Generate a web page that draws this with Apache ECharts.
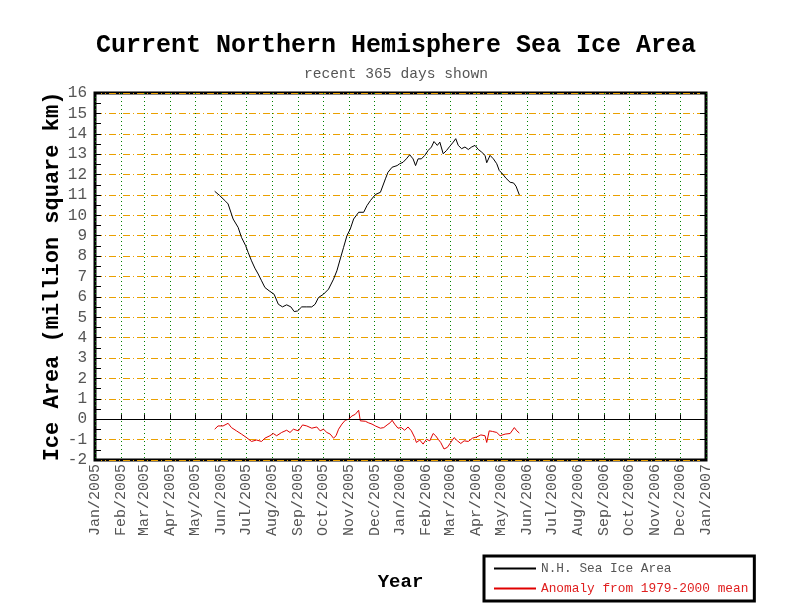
<!DOCTYPE html>
<html>
<head>
<meta charset="utf-8" />
<title>Current Northern Hemisphere Sea Ice Area</title>
<script src="https://cdn.jsdelivr.net/npm/echarts@6/dist/echarts.min.js"></script>
<style>
  html, body { margin: 0; padding: 0; background: #fff; }
  #chart { width: 792px; height: 612px; }
</style>
</head>
<body>
<div id="chart"></div>
<script type="text/javascript">
// N.H. sea ice area, million km^2
var iceDates = ['2005-05-24','2005-05-30','2005-06-06','2005-06-09','2005-06-15','2005-06-21','2005-06-25','2005-06-30',
  '2005-07-03','2005-07-07','2005-07-11','2005-07-15','2005-07-19','2005-07-23','2005-07-28','2005-08-03','2005-08-08',
  '2005-08-13','2005-08-18','2005-08-23','2005-08-27','2005-08-31','2005-09-05','2005-09-11','2005-09-17','2005-09-21',
  '2005-09-25','2005-10-01','2005-10-07','2005-10-13','2005-10-17','2005-10-21','2005-10-25','2005-10-29','2005-11-02',
  '2005-11-06','2005-11-12','2005-11-18','2005-11-22','2005-11-26','2005-12-02','2005-12-08','2005-12-14','2005-12-17',
  '2005-12-22','2005-12-28','2005-12-31','2006-01-04','2006-01-08','2006-01-12','2006-01-16','2006-01-19','2006-01-22',
  '2006-01-26','2006-01-30','2006-02-03','2006-02-07','2006-02-10','2006-02-14','2006-02-17','2006-02-21','2006-02-25',
  '2006-03-01','2006-03-05','2006-03-08','2006-03-11','2006-03-15','2006-03-19','2006-03-23','2006-03-27','2006-03-31',
  '2006-04-04','2006-04-08','2006-04-12','2006-04-14','2006-04-18','2006-04-22','2006-04-26','2006-04-29','2006-05-03',
  '2006-05-07','2006-05-12','2006-05-16','2006-05-19','2006-05-23'];
var iceArea = [11.18,10.97,10.69,10.56,9.82,9.41,8.92,8.51,
  8.18,7.77,7.41,7.12,6.79,6.46,6.30,6.13,5.64,
  5.51,5.61,5.51,5.28,5.31,5.51,5.51,5.51,5.64,
  5.97,6.13,6.38,6.87,7.28,7.86,8.43,9.00,9.33,
  9.82,10.15,10.15,10.48,10.72,11.02,11.13,11.79,12.11,
  12.36,12.44,12.53,12.60,12.77,12.97,12.77,12.44,12.77,
  12.77,12.94,13.18,13.35,13.62,13.43,13.59,13.02,13.18,
  13.39,13.59,13.76,13.43,13.27,13.35,13.23,13.35,13.43,
  13.23,13.10,12.94,12.58,12.94,12.77,12.53,12.20,12.03,
  11.82,11.62,11.59,11.43,11.00];

// anomaly from 1979-2000 mean
var anomDates = ['2005-05-24','2005-05-28','2005-06-03','2005-06-09','2005-06-13','2005-06-19','2005-06-25','2005-07-01',
  '2005-07-07','2005-07-13','2005-07-19','2005-07-23','2005-07-29','2005-08-02','2005-08-06','2005-08-12','2005-08-18',
  '2005-08-22','2005-08-26','2005-09-01','2005-09-06','2005-09-11','2005-09-17','2005-09-23','2005-09-27','2005-10-01',
  '2005-10-05','2005-10-09','2005-10-13','2005-10-16','2005-10-19','2005-10-23','2005-10-27','2005-10-31','2005-11-04',
  '2005-11-08','2005-11-12','2005-11-14','2005-11-20','2005-11-24','2005-11-28','2005-12-02','2005-12-08','2005-12-12',
  '2005-12-16','2005-12-20','2005-12-22','2005-12-25','2005-12-29','2006-01-02','2006-01-06','2006-01-10','2006-01-14',
  '2006-01-18','2006-01-20','2006-01-24','2006-01-28','2006-02-01','2006-02-05','2006-02-09','2006-02-12','2006-02-15',
  '2006-02-18','2006-02-22','2006-02-26','2006-03-02','2006-03-06','2006-03-10','2006-03-14','2006-03-18','2006-03-23',
  '2006-03-28','2006-04-02','2006-04-07','2006-04-12','2006-04-14','2006-04-17','2006-04-21','2006-04-26','2006-04-30',
  '2006-05-06','2006-05-12','2006-05-17','2006-05-20','2006-05-23'];
var anomaly = [-0.49,-0.33,-0.33,-0.20,-0.41,-0.57,-0.73,-0.90,
  -1.09,-1.02,-1.09,-0.93,-0.81,-0.70,-0.81,-0.65,-0.54,
  -0.65,-0.49,-0.57,-0.28,-0.33,-0.44,-0.38,-0.57,-0.49,
  -0.65,-0.73,-0.93,-0.81,-0.49,-0.24,-0.05,0.00,0.16,
  0.24,0.44,-0.08,-0.10,-0.18,-0.24,-0.33,-0.44,-0.41,
  -0.28,-0.16,-0.05,-0.24,-0.44,-0.41,-0.54,-0.38,-0.57,
  -0.90,-1.14,-1.02,-1.22,-0.98,-1.06,-0.70,-0.81,-0.98,
  -1.14,-1.46,-1.38,-1.14,-0.90,-1.06,-1.19,-1.06,-1.09,
  -0.93,-0.87,-0.77,-0.81,-1.14,-0.57,-0.60,-0.65,-0.81,
  -0.73,-0.70,-0.41,-0.57,-0.68];

var monthNames = ['Jan','Feb','Mar','Apr','May','Jun','Jul','Aug','Sep','Oct','Nov','Dec'];
var DAY = 86400000;

function pairs(d, v) {
  var out = [];
  for (var i = 0; i < d.length; i++) out.push([d[i], v[i]]);
  return out;
}

var mono = '"Liberation Mono", "DejaVu Sans Mono", monospace';
var myChart = echarts.init(document.getElementById('chart'));
var option = {
  animation: false,
  backgroundColor: '#fff',
  title: {
    text: 'Current Northern Hemisphere Sea Ice Area',
    subtext: 'recent 365 days shown',
    left: 'center',
    top: 28,
    itemGap: 9,
    textStyle: { fontFamily: mono, fontSize: 25, fontWeight: 'bold', color: '#000' },
    subtextStyle: { fontFamily: mono, fontSize: 14.6, color: '#555' }
  },
  legend: {
    orient: 'vertical',
    left: 484,
    top: 556,
    padding: [6, 6, 6, 10],
    itemGap: 7,
    itemWidth: 42,
    itemHeight: 2,
    borderColor: '#000',
    borderWidth: 3,
    backgroundColor: '#fff',
    data: [
      { name: 'N.H. Sea Ice Area', icon: 'rect', textStyle: { color: '#555' } },
      { name: 'Anomaly from 1979-2000 mean', icon: 'rect', textStyle: { color: '#e02020' } }
    ],
    textStyle: { fontFamily: mono, fontSize: 12.8 }
  },
  grid: {
    left: 95, right: 86, top: 93, bottom: 152,
    show: true, borderColor: '#000', borderWidth: 3, backgroundColor: 'transparent'
  },
  xAxis: {
    type: 'time',
    min: '2005-01-01',
    max: '2007-01-01',
    splitNumber: 24,
    minInterval: 28 * DAY,
    maxInterval: 31 * DAY,
    name: 'Year',
    nameLocation: 'middle',
    nameGap: 113,
    nameMoveOverlap: false,
    nameTextStyle: { fontFamily: mono, fontSize: 19, fontWeight: 'bold', color: '#000' },
    axisLine: { show: false },
    axisTick: { show: true, inside: true, length: 5, lineStyle: { color: '#000' } },
    axisLabel: {
      rotate: 90,
      margin: 4,
      hideOverlap: false,
      showMinLabel: true,
      showMaxLabel: true,
      fontFamily: mono,
      fontSize: 15,
      color: '#555',
      formatter: function (val) {
        var d = new Date(val);
        return monthNames[d.getMonth()] + '/' + d.getFullYear();
      }
    },
    splitLine: { show: true, lineStyle: { color: '#008000', type: [1, 3], width: 1 } }
  },
  yAxis: [{
    type: 'value',
    min: -2,
    max: 16,
    interval: 1,
    name: 'Ice Area (million square km)',
    nameLocation: 'middle',
    nameGap: 32,
    nameMoveOverlap: false,
    nameTextStyle: { fontFamily: mono, fontSize: 22, fontWeight: 'bold', color: '#000' },
    axisLine: { show: false },
    axisTick: { show: true, inside: true, length: 6, lineStyle: { color: '#000' } },
    minorTick: { show: true, splitNumber: 2, length: 6, lineStyle: { color: '#000' } },
    axisLabel: { fontFamily: mono, fontSize: 16, color: '#555', margin: 8 },
    splitLine: { show: true, lineStyle: { color: '#eaa000', type: [7, 3, 1, 3], width: 1 } }
  }, {
    type: 'value',
    min: -2,
    max: 16,
    interval: 1,
    position: 'right',
    axisLine: { show: false },
    axisTick: { show: true, inside: true, length: 6, lineStyle: { color: '#000' } },
    axisLabel: { show: false },
    splitLine: { show: false }
  }],
  series: [{
    name: 'N.H. Sea Ice Area',
    type: 'line',
    data: pairs(iceDates, iceArea),
    showSymbol: false,
    symbol: 'none',
    color: '#000',
    lineStyle: { color: '#000', width: 1 },
    markLine: {
      silent: true,
      symbol: 'none',
      label: { show: false },
      lineStyle: { color: '#000', type: 'solid', width: 1 },
      data: [{ yAxis: 0 }]
    },
    z: 3
  }, {
    name: 'Anomaly from 1979-2000 mean',
    type: 'line',
    data: pairs(anomDates, anomaly),
    showSymbol: false,
    symbol: 'none',
    color: '#e00000',
    lineStyle: { color: '#e00000', width: 1 },
    z: 3
  }]
};
myChart.setOption(option);
</script>
</body>
</html>
